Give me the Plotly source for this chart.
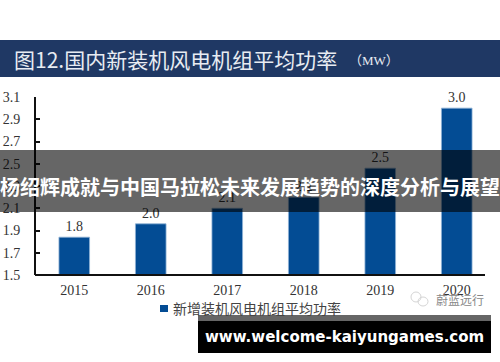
import plotly.graph_objects as go

years = ["2015", "2016", "2017", "2018", "2019", "2020"]
power = [1.84, 1.96, 2.10, 2.20, 2.46, 3.00]
labels = ["1.8", "2.0", "2.1", "2.2", "2.5", "3.0"]
y_ticks = [1.5, 1.7, 1.9, 2.1, 2.3, 2.5, 2.7, 2.9, 3.1]
y_tick_labels = ["1.5", "1.7", "1.9", "2.1", "2.3", "2.5", "2.7", "2.9", "3.1"]
series_name = "新增装机风电机组平均功率"
title_text = "图12.国内新装机风电机组平均功率"
title_unit = "（MW）"
banner_text = "杨绍辉成就与中国马拉松未来发展趋势的深度分析与展望"
site_text = "www.welcome-kaiyungames.com"
mark_text = "蔚蓝远行"

W, H = 500, 362
SERIF = "Liberation Serif, Noto Sans CJK SC, serif"
SANS = "Noto Sans CJK SC, sans-serif"

fig = go.Figure(go.Bar(
    x=years, y=power, width=0.4, marker=dict(color="#034c94", line=dict(width=0.8, color="#8fb2d6")),
    text=labels, textposition="outside", cliponaxis=False,
    textfont=dict(family=SERIF, size=14, color="#333333"), showlegend=False,
))

def px(x): return x / W
def py(y): return 1 - y / H

fig.update_layout(
    width=W, height=H, autosize=False, margin=dict(l=0, r=0, t=0, b=0, autoexpand=False),
    paper_bgcolor="white", plot_bgcolor="white", bargap=0.6,
    xaxis=dict(domain=[px(36), px(495)], type="category", showline=False, ticks="", automargin=False,
               showgrid=False, tickfont=dict(family=SERIF, size=14, color="#333333"), ticklen=0,
               ticklabelstandoff=5),
    yaxis=dict(domain=[py(275), py(97)], range=[1.5, 3.1], tickvals=y_ticks, ticktext=y_tick_labels,
               automargin=False,
               showgrid=False, zeroline=False, showline=True, linecolor="#111111", linewidth=2,
               ticks="inside", ticklen=4, tickwidth=2, tickcolor="#111111",
               ticklabelstandoff=11,
               tickfont=dict(family=SERIF, size=14, color="#333333")),
    shapes=[
        dict(type="rect", xref="paper", yref="paper", x0=0, x1=1, y0=py(77), y1=py(40),
             fillcolor="#1f3864", line=dict(width=0), layer="above"),
        dict(type="line", xref="paper", yref="paper", x0=px(35), x1=px(485), y0=py(275), y1=py(275),
             line=dict(color="#111111", width=2), layer="above"),
        dict(type="rect", xref="paper", yref="paper", x0=px(160), x1=px(168), y0=py(312), y1=py(305),
             fillcolor="#034c94", line=dict(width=0), layer="above"),
        dict(type="circle", xref="paper", yref="paper", x0=px(411), x1=px(421), y0=py(302), y1=py(292),
             line=dict(color="#d5d5d5", width=1), layer="above"),
        dict(type="circle", xref="paper", yref="paper", x0=px(418), x1=px(428), y0=py(306), y1=py(297),
             line=dict(color="#d5d5d5", width=1), layer="above"),
        dict(type="rect", xref="paper", yref="paper", x0=0, x1=1, y0=py(212), y1=py(150),
             fillcolor="rgba(0,0,0,0.6)", line=dict(width=0), layer="above"),
        dict(type="rect", xref="paper", yref="paper", x0=px(198), x1=px(491), y0=py(321), y1=py(315),
             fillcolor="rgba(0,0,0,0.6)", line=dict(width=0), layer="above"),
        dict(type="rect", xref="paper", yref="paper", x0=px(198), x1=px(491), y0=py(353), y1=py(321),
             fillcolor="#000000", line=dict(width=0), layer="above"),
    ],
    annotations=[
        dict(text=title_text, x=px(12), y=py(59), xref="paper", yref="paper", xanchor="left", yanchor="middle",
             showarrow=False, font=dict(family="Noto Sans CJK SC, serif", size=21, color="#e8ecf2")),
        dict(text=title_unit, x=px(347), y=py(61), xref="paper", yref="paper", xanchor="left", yanchor="middle",
             showarrow=False, font=dict(family=SERIF, size=13, color="#e8ecf2")),
        dict(text=series_name, x=px(171), y=py(308), xref="paper", yref="paper", xanchor="left", yanchor="middle",
             showarrow=False, font=dict(family=SANS, size=14, color="#444444")),
        dict(text=mark_text, x=px(434), y=py(299), xref="paper", yref="paper", xanchor="left", yanchor="middle",
             showarrow=False, font=dict(family=SANS, size=12, color="#888888")),
        dict(text=banner_text, x=px(250), y=py(187), xref="paper", yref="paper", xanchor="center", yanchor="middle",
             showarrow=False, font=dict(family=SANS, size=20, color="white", weight="bold")),
        dict(text=site_text, x=px(344), y=py(337), xref="paper", yref="paper", xanchor="center", yanchor="middle",
             showarrow=False, font=dict(family="DejaVu Sans", size=15, color="white", weight="bold")),
    ],
)
fig.write_html("out.html", config={"displayModeBar": False},
               post_script="document.documentElement.style.margin='0';document.body.style.margin='0';")
